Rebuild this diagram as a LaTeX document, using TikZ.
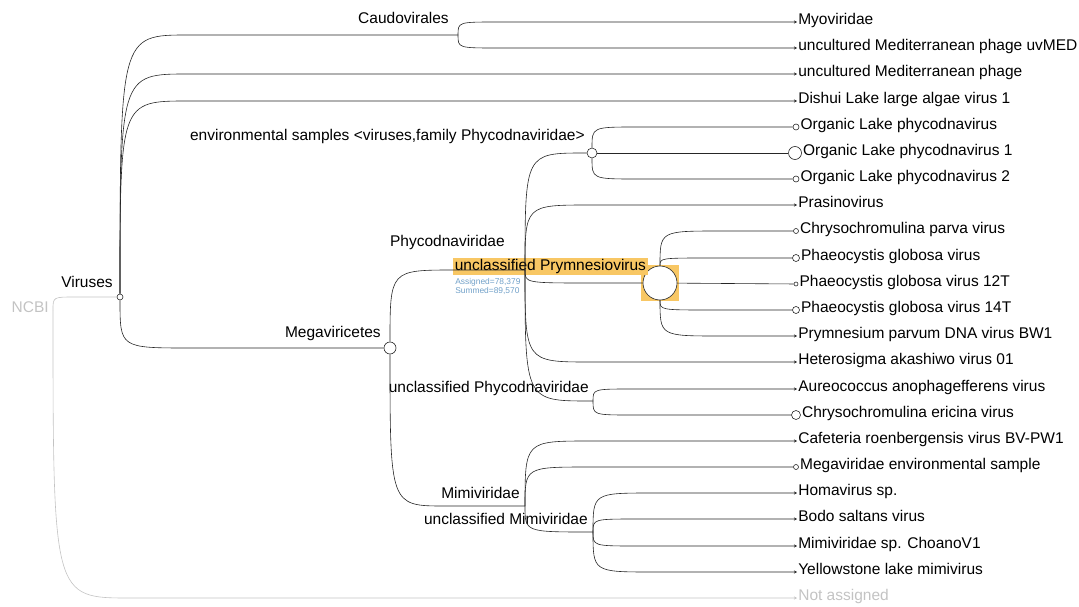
\documentclass[tikz,border=0pt]{standalone}
\usepackage{fontspec}
\setmainfont{Liberation Sans}
\usetikzlibrary{arrows.meta,calc}

\definecolor{hilite}{RGB}{248,199,100}
\definecolor{countblue}{RGB}{112,160,200}
\definecolor{nogray}{RGB}{195,195,195}

\tikzset{
  branch/.style={to path={.. controls (\tikztostart |- \tikztotarget) .. ($(\tikztostart |- \tikztotarget)+(#1,0)$) -- (\tikztotarget)}},
  branch/.default=60,
  leaf/.style={anchor=mid west, inner sep=1pt},
  taxon/.style={anchor=mid east, inner sep=1pt},
  dot/.style={circle, draw, fill=white, inner sep=0pt, minimum size=#1},
}

\begin{document}
\begin{tikzpicture}[x=1pt, y=-1pt, line width=0.6pt, draw=black!85,
    font=\fontsize{15.5}{18}\selectfont,
    >={Stealth[length=3pt,width=3pt]}]
            \useasboundingbox (0,0) rectangle (1079,607);

            % Inner nodes
            \coordinate (ncbi) at (53,310);
            \node[dot=6] (vir) at (120,297) {};
            \coordinate (caudo) at (458,35);
            \node[dot=12] (mega) at (390,348) {};
            \coordinate (phyco) at (525,270);
            \node[dot=10] (envs) at (592,153) {};
            \node[fill=hilite, draw=none, minimum width=38, minimum height=36, inner sep=0pt] (prymbox) at (660,283) {};
            \node[dot=34] (prym) at (660,283) {};
            \coordinate (uphyco) at (593,401);
            \coordinate (mimi) at (525,506);
            \coordinate (umimi) at (593,532);

            % Inner labels
            \node[taxon, text=nogray] (ncbi-t) at (50,310) {NCBI};
            \node[taxon] (vir-t) at (114,285) {Viruses};
            \node[taxon] (caudo-t) at (450,21) {Caudovirales};
            \node[taxon] (envs-t) at (586,138) {environmental samples <viruses,family Phycodnaviridae>};
            \node[taxon] (phyco-t) at (506,244) {Phycodnaviridae};
            \node[anchor=mid west, fill=hilite, inner sep=1.5pt] (prym-t) at (453,268) {unclassified Prymnesiovirus};
            \node[anchor=north west, inner sep=0pt, align=left, text=countblue,
                  font=\fontsize{8.4}{9}\selectfont] (prym-c) at (455,278) {Assigned=78,379\\Summed=89,570};
            \node[taxon] (mega-t) at (382,335) {Megaviricetes};
            \node[taxon] (uphyco-t) at (590,390) {unclassified Phycodnaviridae};
            \node[taxon] (mimi-t) at (521,496) {Mimiviridae};
            \node[taxon] (umimi-t) at (589,522) {unclassified Mimiviridae};

            % Leaves
            \node[leaf] (myo) at (797,22) {Myoviridae};
            \node[leaf] (uvmed) at (797,48) {uncultured Mediterranean phage uvMED};
            \node[leaf] (umed) at (797,74) {uncultured Mediterranean phage};
            \node[leaf] (dishui) at (797,101) {Dishui Lake large algae virus 1};
            \node[dot=6] (olp) at (796,127) {};
            \node[leaf] (olp-t) at (olp.east) {Organic Lake phycodnavirus};
            \node[dot=13] (olp1) at (795,153) {};
            \node[leaf] (olp1-t) at (olp1.east) {Organic Lake phycodnavirus 1};
            \node[dot=6] (olp2) at (796,179) {};
            \node[leaf] (olp2-t) at (olp2.east) {Organic Lake phycodnavirus 2};
            \node[leaf] (prasino) at (797,205) {Prasinovirus};
            \node[dot=5] (cpv) at (796,231) {};
            \node[leaf] (cpv-t) at (cpv.east) {Chrysochromulina parva virus};
            \node[dot=7] (pgv) at (796,258) {};
            \node[leaf] (pgv-t) at (pgv.east) {Phaeocystis globosa virus};
            \node[dot=4] (pgv12) at (796,284) {};
            \node[leaf] (pgv12-t) at (pgv12.east) {Phaeocystis globosa virus 12T};
            \node[dot=7] (pgv14) at (796,310) {};
            \node[leaf] (pgv14-t) at (pgv14.east) {Phaeocystis globosa virus 14T};
            \node[leaf] (pdv) at (797,336) {Prymnesium parvum DNA virus BW1};
            \node[leaf] (hav) at (797,362) {Heterosigma akashiwo virus 01};
            \node[leaf] (aav) at (797,389) {Aureococcus anophagefferens virus};
            \node[dot=9] (cev) at (796,415) {};
            \node[leaf] (cev-t) at (cev.east) {Chrysochromulina ericina virus};
            \node[leaf] (crov) at (797,441) {Cafeteria roenbergensis virus BV-PW1};
            \node[dot=5] (menv) at (796,467) {};
            \node[leaf] (menv-t) at (menv.east) {Megaviridae environmental sample};
            \node[leaf] (homa) at (797,493) {Homavirus sp.};
            \node[leaf] (bodo) at (797,519) {Bodo saltans virus};
            \node[leaf] (choano) at (797,546) {Mimiviridae sp. ChoanoV1};
            \node[leaf] (ylm) at (797,572) {Yellowstone lake mimivirus};
            \node[leaf, text=nogray] (na) at (797,598) {Not assigned};

            % Edges
            \draw[nogray] (ncbi) to[branch=22] (vir);
            \draw[nogray, ->] (ncbi) to[branch=77] (na.mid west);
            \draw (vir) to[branch=68] (caudo);
            \draw[->] (vir) to[branch=68] (umed.mid west);
            \draw[->] (vir) to[branch=68] (dishui.mid west);
            \draw (vir) to[branch=70] (mega);
            \draw[->] (caudo) to[branch=40] (myo.mid west);
            \draw[->] (caudo) to[branch=40] (uvmed.mid west);
            \draw (mega) to[branch=65] (phyco);
            \draw (mega) to[branch=55] (mimi);
            \draw (phyco) to[branch=60] (envs);
            \draw[->] (phyco) to[branch=65] (prasino.mid west);
            \draw (phyco) to[branch=65] (prym);
            \draw[->] (phyco) to[branch=65] (hav.mid west);
            \draw (phyco) to[branch=65] (uphyco);
            \draw (envs) to[branch=45] (olp);
            \draw (envs) -- (olp1);
            \draw (envs) to[branch=45] (olp2);
            \draw (prym) to[branch=60] (cpv);
            \draw (prym) to[branch=50] (pgv);
            \draw (prym) -- (pgv12);
            \draw (prym) to[branch=50] (pgv14);
            \draw[->] (prym) to[branch=60] (pdv.mid west);
            \draw[->] (uphyco) to[branch=40] (aav.mid west);
            \draw (uphyco) to[branch=40] (cev);
            \draw[->] (mimi) to[branch=65] (crov.mid west);
            \draw (mimi) to[branch=65] (menv);
            \draw (mimi) to[branch=65] (umimi);
            \draw[->] (umimi) to[branch=60] (homa.mid west);
            \draw[->] (umimi) to[branch=45] (bodo.mid west);
            \draw[->] (umimi) to[branch=45] (choano.mid west);
            \draw[->] (umimi) to[branch=60] (ylm.mid west);
        \end{tikzpicture}
\end{document}
